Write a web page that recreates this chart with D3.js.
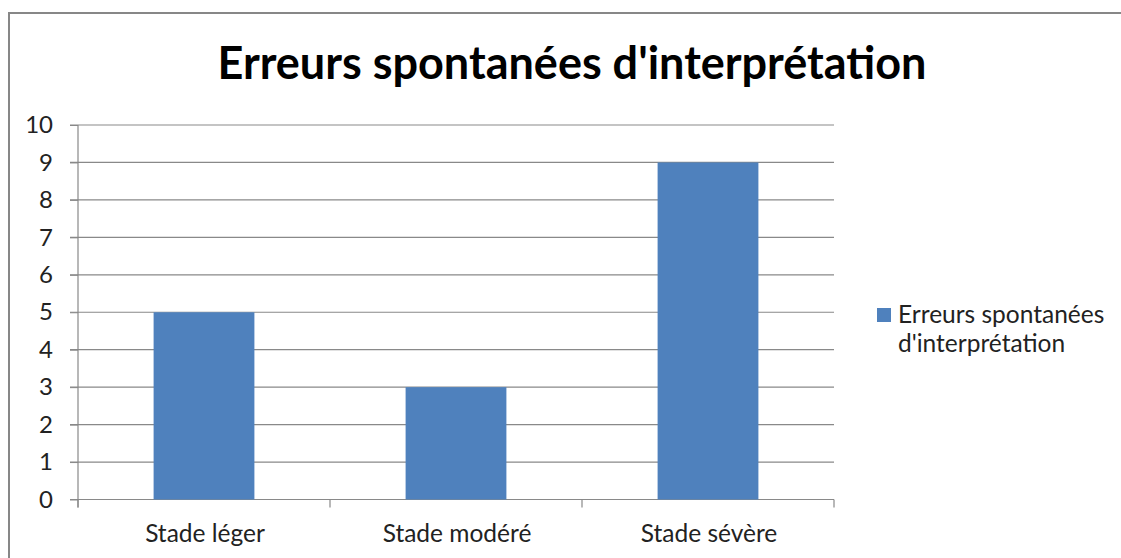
<!DOCTYPE html>
<html><head><meta charset="utf-8">
<script src="https://cdn.jsdelivr.net/npm/d3@7"></script>
<style>body{margin:0;background:#fff}svg{display:block}</style>
</head><body>
<svg id="c" width="1121" height="558"></svg>
<script>
const title = "Erreurs spontanées d'interprétation";
const categories = ["Stade léger", "Stade modéré", "Stade sévère"];
const values = [5, 3, 9];
const seriesName = ["Erreurs spontanées", "d'interprétation"];
const yTicks = [0,1,2,3,4,5,6,7,8,9,10];

const svg = d3.select("#c");
const font = "Lato, 'Open Sans', sans-serif";
// outer border
svg.append("rect").attr("x", 9).attr("y", 13).attr("width", 1121).attr("height", 560)
  .attr("fill", "#fff").attr("stroke", "#878787").attr("stroke-width", 2);

const L = 78, R = 834, T = 125, B = 499.5;
const x = d3.scaleBand().domain(categories).range([L, R]).paddingInner(0.6).paddingOuter(0.3);
const y = d3.scaleLinear().domain([0, 10]).range([B, T]);

// gridlines
svg.append("g").selectAll("line").data(yTicks).join("line")
  .attr("x1", 70).attr("x2", R).attr("y1", d => y(d)).attr("y2", d => y(d))
  .attr("stroke", "#898989").attr("stroke-width", 1.2);

// bars
svg.append("g").selectAll("rect").data(values).join("rect")
  .attr("x", (d,i) => x(categories[i])).attr("width", x.bandwidth())
  .attr("y", d => y(d)).attr("height", d => y(0) - y(d))
  .attr("fill", "#4F81BD");

// y axis
const ya = svg.append("g").attr("transform", `translate(${L},0)`)
  .call(d3.axisLeft(y).tickValues(yTicks).tickSize(8).tickPadding(17));
ya.select(".domain").attr("d", `M0,${T}V${B+8}`);
ya.selectAll("line").attr("stroke", "#898989");
ya.selectAll(".domain").attr("stroke", "#898989").attr("stroke-width", 1.2);
ya.selectAll("text").attr("font-family", font).attr("font-size", 24).attr("fill", "#222");

// x axis
const xa = svg.append("g").attr("transform", `translate(0,${B})`);
const bounds = [L, ...categories.map((c,i) => L + (R-L)/categories.length*(i+1))];
xa.selectAll("line").data(bounds).join("line")
  .attr("x1", d => d).attr("x2", d => d).attr("y1", 0).attr("y2", 8)
  .attr("stroke", "#898989").attr("stroke-width", 1.2);
xa.selectAll("text").data(categories).join("text")
  .attr("x", d => x(d) + x.bandwidth()/2 + 1).attr("y", 42)
  .attr("text-anchor", "middle").attr("font-family", font).attr("font-size", 24.5).attr("fill", "#222")
  .text(d => d);

// title
svg.append("text").attr("x", 572).attr("y", 79).attr("text-anchor", "middle")
  .attr("font-family", font).attr("font-weight", "bold").attr("font-size", 45).attr("fill", "#000")
  .text(title);

// legend
svg.append("rect").attr("x", 877).attr("y", 308).attr("width", 14).attr("height", 14).attr("fill", "#4F81BD");
svg.append("text").attr("font-family", font).attr("font-size", 24.5).attr("fill", "#222")
  .selectAll("tspan").data(seriesName).join("tspan")
  .attr("x", 898).attr("y", (d,i) => 323 + i*29).text(d => d);
</script>
</body></html>
